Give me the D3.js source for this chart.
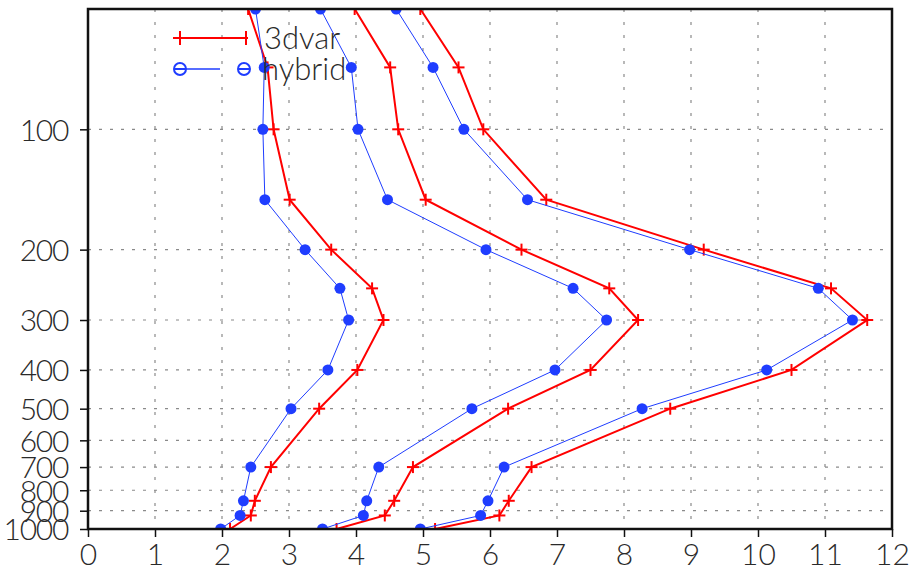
<!DOCTYPE html>
<html>
<head>
<meta charset="utf-8">
<script src="https://cdn.jsdelivr.net/npm/d3@7"></script>
<style>
  html, body { margin: 0; padding: 0; background: #fff; }
  svg { display: block; }
  text { font-family: Lato, "Open Sans", "DejaVu Sans", sans-serif; font-weight: 300; fill: #2a2a2a; }
</style>
</head>
<body>
<svg id="chart" width="914" height="571"></svg>
<script>
// Pressure levels (hPa)
const levels = [50, 70, 100, 150, 200, 250, 300, 400, 500, 700, 850, 925, 1000];

// Profiles, three pairs
const var3dA  = [2.39, 2.68, 2.77, 3.01, 3.63, 4.24, 4.41, 4.02, 3.45, 2.73, 2.49, 2.43, 2.12];
const hybridA = [2.50, 2.63, 2.61, 2.64, 3.24, 3.76, 3.89, 3.58, 3.03, 2.43, 2.32, 2.27, 1.98];
const var3dB  = [3.98, 4.51, 4.63, 5.04, 6.47, 7.78, 8.21, 7.50, 6.27, 4.85, 4.57, 4.43, 3.71];
const hybridB = [3.47, 3.93, 4.03, 4.47, 5.94, 7.24, 7.74, 6.97, 5.73, 4.34, 4.16, 4.11, 3.50];
const var3dC  = [4.96, 5.53, 5.90, 6.84, 9.19, 11.09, 11.63, 10.50, 8.69, 6.62, 6.28, 6.14, 5.18];
const hybridC = [4.60, 5.15, 5.61, 6.56, 8.98, 10.90, 11.41, 10.13, 8.27, 6.21, 5.97, 5.86, 4.96];

const xTicks = [0, 1, 2, 3, 4, 5, 6, 7, 8, 9, 10, 11, 12];
const yTicks = [100, 200, 300, 400, 500, 600, 700, 800, 900, 1000];
const seriesNames = ["3dvar", "hybrid"];

const RED = "#ff0000";
const BLUE = "#1f3dff";

const svg = d3.select("#chart");
const pLeft = 88, pRight = 892, pTop = 9, pBottom = 529;

const x = d3.scaleLinear().domain([0, 12]).range([pLeft, pRight]);
const y = d3.scaleLog().domain([1000, 50]).range([pBottom, pTop]);

// clip region for the data
svg.append("defs").append("clipPath").attr("id", "plotclip")
  .append("rect").attr("x", pLeft).attr("y", pTop)
  .attr("width", pRight - pLeft).attr("height", pBottom - pTop);

// dotted grid
const grid = svg.append("g").attr("stroke", "#8a8a8a").attr("stroke-width", 1.2);
grid.selectAll("line.v").data(xTicks.slice(1, -1)).join("line")
  .attr("class", "v")
  .attr("x1", d => x(d)).attr("x2", d => x(d))
  .attr("y1", pTop).attr("y2", pBottom)
  .attr("stroke-dasharray", "3,10");
grid.selectAll("line.h").data(yTicks.slice(0, -1)).join("line")
  .attr("class", "h")
  .attr("x1", pLeft).attr("x2", pRight)
  .attr("y1", d => y(d)).attr("y2", d => y(d))
  .attr("stroke-dasharray", "3,8");

const line = d3.line().x(d => x(d[0])).y(d => y(d[1]));
const plot = svg.append("g").attr("clip-path", "url(#plotclip)");

function drawVar3d(vals) {
  const pts = vals.map((v, i) => [v, levels[i]]);
  plot.append("path").datum(pts).attr("d", line)
    .attr("fill", "none").attr("stroke", RED).attr("stroke-width", 2);
  const g = plot.append("g").attr("stroke", RED).attr("stroke-width", 2);
  pts.forEach(p => {
    const cx = x(p[0]), cy = y(p[1]);
    g.append("line").attr("x1", cx - 6).attr("x2", cx + 6).attr("y1", cy).attr("y2", cy);
    g.append("line").attr("x1", cx).attr("x2", cx).attr("y1", cy - 6).attr("y2", cy + 6);
  });
}
function drawHybrid(vals) {
  const pts = vals.map((v, i) => [v, levels[i]]);
  plot.append("path").datum(pts).attr("d", line)
    .attr("fill", "none").attr("stroke", BLUE).attr("stroke-width", 1);
  plot.append("g").selectAll("circle").data(pts).join("circle")
    .attr("cx", d => x(d[0])).attr("cy", d => y(d[1])).attr("r", 5.5)
    .attr("fill", BLUE);
}

[var3dA, var3dB, var3dC].forEach(drawVar3d);
[hybridA, hybridB, hybridC].forEach(drawHybrid);

// axes
const xAxis = d3.axisBottom(x).tickValues(xTicks).tickSize(8).tickPadding(6).tickFormat(d3.format("d"));
const yAxis = d3.axisLeft(y).tickValues(yTicks).tickSize(8).tickPadding(12).tickFormat(d3.format("d"));

const gx = svg.append("g").attr("transform", `translate(0,${pBottom})`).call(xAxis);
const gy = svg.append("g").attr("transform", `translate(${pLeft},0)`).call(yAxis);
[gx, gy].forEach(g => {
  g.select(".domain").remove();
  g.selectAll(".tick line").attr("stroke", "#111").attr("stroke-width", 1.5);
  g.selectAll(".tick text").attr("fill", "#2a2a2a").attr("font-size", 30)
    .attr("font-family", null)
    .style("font-family", "Lato, 'Open Sans', sans-serif").style("font-weight", 300);
});
gx.selectAll(".tick text").attr("dy", "0.72em");
gy.selectAll(".tick text").attr("dy", "0.36em").style("letter-spacing", "-1.3px");

// frame
svg.append("rect").attr("x", pLeft).attr("y", pTop)
  .attr("width", pRight - pLeft).attr("height", pBottom - pTop)
  .attr("fill", "none").attr("stroke", "#111").attr("stroke-width", 2.5);

// legend
const legend = svg.append("g");
const lgX1 = 180, lgX2 = 246;
const ly0 = 38, ly1 = 69;
legend.append("line").attr("x1", lgX1 - 7).attr("x2", lgX2 + 2).attr("y1", ly0).attr("y2", ly0)
  .attr("stroke", RED).attr("stroke-width", 2);
[lgX1, lgX2].forEach(cx => {
  legend.append("line").attr("x1", cx).attr("x2", cx).attr("y1", ly0 - 7).attr("y2", ly0 + 7)
    .attr("stroke", RED).attr("stroke-width", 2);
});
legend.append("text").attr("x", 264).attr("y", ly0).attr("dy", "0.36em")
  .attr("font-size", 31).text(seriesNames[0]);

legend.append("line").attr("x1", lgX1 - 6).attr("x2", 220).attr("y1", ly1).attr("y2", ly1)
  .attr("stroke", BLUE).attr("stroke-width", 1.5);
[lgX1, lgX2 - 2].forEach(cx => {
  legend.append("circle").attr("cx", cx).attr("cy", ly1).attr("r", 6)
    .attr("fill", "none").attr("stroke", BLUE).attr("stroke-width", 2);
  legend.append("line").attr("x1", cx - 6).attr("x2", cx + 6).attr("y1", ly1).attr("y2", ly1)
    .attr("stroke", BLUE).attr("stroke-width", 2);
});
legend.append("text").attr("x", 262).attr("y", ly1).attr("dy", "0.36em")
  .attr("font-size", 31).text(seriesNames[1]);
</script>
</body>
</html>
